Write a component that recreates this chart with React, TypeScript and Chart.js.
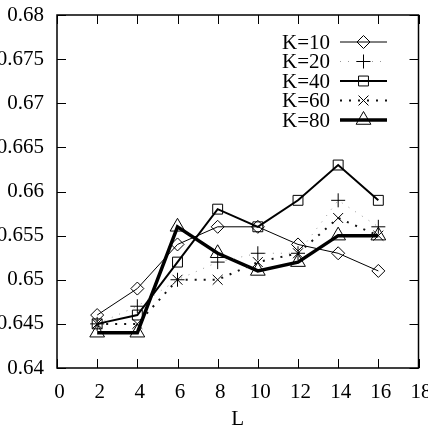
import React, { useEffect, useRef } from 'react';
import { Chart, registerables } from 'chart.js';
import { drawPoint } from 'chart.js/helpers';

Chart.register(...registerables);

// ---- data ----
const L = [2, 4, 6, 8, 10, 12, 14, 16];
const k10 = [0.646, 0.649, 0.654, 0.656, 0.656, 0.654, 0.653, 0.651];
const k20 = [0.645, 0.647, 0.650, 0.652, 0.653, 0.653, 0.659, 0.656];
const k40 = [0.645, 0.646, 0.652, 0.658, 0.656, 0.659, 0.663, 0.659];
const k60 = [0.645, 0.645, 0.650, 0.650, 0.652, 0.653, 0.657, 0.655];
const k80 = [0.644, 0.644, 0.656, 0.653, 0.651, 0.652, 0.655, 0.655];
const seriesLabels = ['K=10', 'K=20', 'K=40', 'K=60', 'K=80'];
const xTickValues = [0, 2, 4, 6, 8, 10, 12, 14, 16, 18];
const yTickValues = [0.64, 0.645, 0.65, 0.655, 0.66, 0.665, 0.67, 0.675, 0.68];
const xTitle = 'L';

// ---- styles ----
const FONT = "'Liberation Serif', 'DejaVu Serif', serif";
const FS = 21;
const styles = [
  { color: '#000', width: 1, dash: [] as number[], point: 'rectRot', r: 6.5 },
  { color: '#999', width: 1, dash: [1, 7], point: 'cross', r: 7 },
  { color: '#000', width: 2, dash: [] as number[], point: 'rect', r: 7 },
  { color: '#111', width: 2, dash: [2, 7], point: 'crossRot', r: 7 },
  { color: '#000', width: 3.5, dash: [] as number[], point: 'triangle', r: 8.5 },
];
const seriesValues = [k10, k20, k40, k60, k80];

const framePlugin = {
  id: 'frame',
  afterDraw(chart: any) {
    const { ctx, chartArea: a, scales } = chart;
    ctx.save();
    ctx.setLineDash([]);
    ctx.strokeStyle = '#000';
    ctx.lineWidth = 1;
    const tl = 9;
    xTickValues.forEach((v) => {
      const px = Math.round(scales.x.getPixelForValue(v)) + 0.5;
      ctx.beginPath();
      ctx.moveTo(px, a.bottom);
      ctx.lineTo(px, a.bottom - tl);
      ctx.moveTo(px, a.top);
      ctx.lineTo(px, a.top + tl);
      ctx.stroke();
    });
    yTickValues.forEach((v) => {
      const py = Math.round(scales.y.getPixelForValue(v)) + 0.5;
      ctx.beginPath();
      ctx.moveTo(a.left, py);
      ctx.lineTo(a.left + tl, py);
      ctx.moveTo(a.right, py);
      ctx.lineTo(a.right - tl, py);
      ctx.stroke();
    });
    ctx.lineWidth = 1.5;
    ctx.strokeRect(a.left, a.top, a.right - a.left, a.bottom - a.top);

    // legend
    const textRight = 330;
    const lineX0 = 340;
    const lineX1 = 387;
    const rowY0 = 42;
    const rowH = 19.5;
    ctx.font = `${FS}px ${FONT}`;
    ctx.textAlign = 'right';
    ctx.textBaseline = 'middle';
    seriesLabels.forEach((lab, i) => {
      const y = rowY0 + i * rowH;
      const s = styles[i];
      ctx.fillStyle = '#000';
      ctx.fillText(lab, textRight, y + 1);
      ctx.beginPath();
      ctx.setLineDash(s.dash);
      ctx.strokeStyle = s.color;
      ctx.lineWidth = s.width;
      ctx.moveTo(lineX0, y);
      ctx.lineTo(lineX1, y);
      ctx.stroke();
      ctx.setLineDash([]);
      ctx.strokeStyle = '#000';
      ctx.fillStyle = 'rgba(0,0,0,0)';
      ctx.lineWidth = 1;
      drawPoint(ctx, { pointStyle: s.point as any, radius: s.r, borderWidth: 1, rotation: 0 } as any, (lineX0 + lineX1) / 2, y);
    });
    ctx.restore();
  },
};

export default function App() {
  const ref = useRef<HTMLCanvasElement>(null);
  useEffect(() => {
    document.body.style.margin = '0';
    const canvas = ref.current!;
    const datasets = seriesLabels.map((lab, i) => {
      const s = styles[i];
      return {
        label: lab,
        data: L.map((x, j) => ({ x, y: seriesValues[i][j] })),
        borderColor: s.color,
        borderWidth: s.width,
        borderDash: s.dash,
        pointStyle: s.point,
        pointRadius: s.r,
        pointBorderColor: '#000',
        pointBackgroundColor: 'rgba(0,0,0,0)',
        pointBorderWidth: 1,
        fill: false,
        tension: 0,
      };
    });
    const chart = new Chart(canvas, {
      type: 'line',
      data: { datasets: datasets as any },
      plugins: [framePlugin],
      options: {
        animation: false,
        responsive: false,
        devicePixelRatio: 1,
        layout: { padding: { left: 0, right: 7, top: 15, bottom: 0 } },
        plugins: { legend: { display: false }, tooltip: { enabled: false } },
        scales: {
          x: {
            type: 'linear',
            min: 0,
            max: 18,
            afterBuildTicks: (s: any) => {
              s.ticks = xTickValues.map((v) => ({ value: v }));
            },
            afterFit: (s: any) => {
              s.height = 64;
              s.paddingLeft = 0;
              s.paddingRight = 0;
            },
            grid: { display: false },
            border: { display: false },
            ticks: {
              color: '#000',
              font: { family: FONT, size: FS },
              padding: 4,
              labelOffset: 2.5,
              maxRotation: 0,
              autoSkip: false,
              callback: (v: any) => String(v),
            },
            title: {
              display: true,
              text: xTitle,
              color: '#000',
              font: { family: FONT, size: FS },
              padding: { top: 0, bottom: 0 },
            },
          },
          y: {
            type: 'linear',
            min: 0.64,
            max: 0.68,
            afterBuildTicks: (s: any) => {
              s.ticks = yTickValues.map((v) => ({ value: v }));
            },
            afterFit: (s: any) => {
              s.width = 57;
              s.paddingTop = 0;
              s.paddingBottom = 0;
            },
            grid: { display: false },
            border: { display: false },
            ticks: {
              color: '#000',
              font: { family: FONT, size: FS },
              padding: 5,
              autoSkip: false,
              callback: (v: any) => String(Number(Number(v).toFixed(3))),
            },
          },
        },
      },
    });
    return () => chart.destroy();
  }, []);
  return (
    <div style={{ position: 'fixed', left: 0, top: 0, width: 428, height: 432, background: '#fff' }}>
      <canvas ref={ref} width={428} height={432} />
    </div>
  );
}
